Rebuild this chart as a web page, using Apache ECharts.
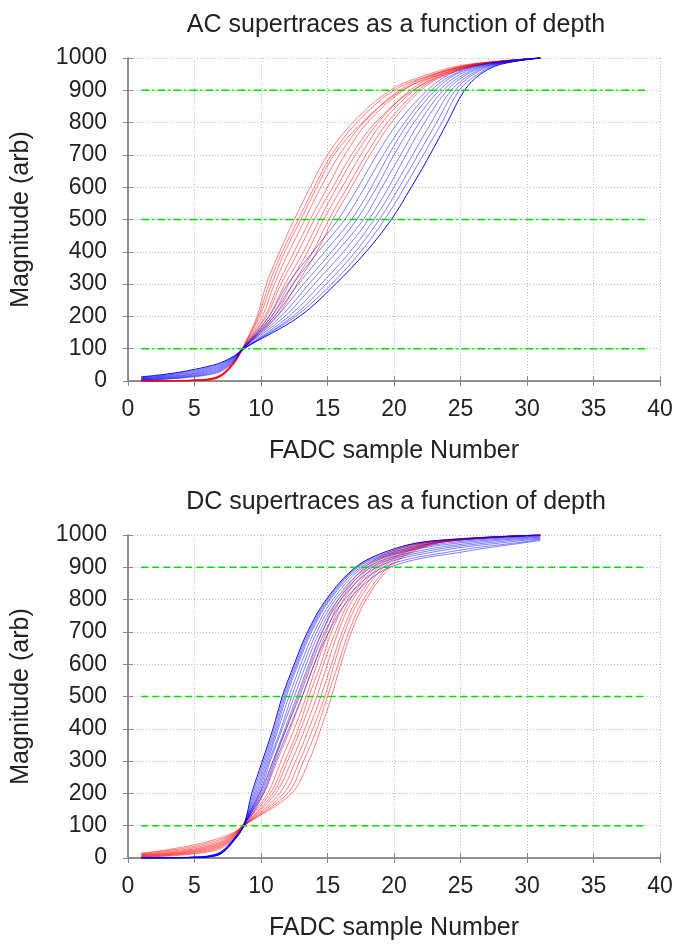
<!DOCTYPE html>
<html>
<head>
<meta charset="utf-8">
<script src="https://cdn.jsdelivr.net/npm/echarts@6/dist/echarts.min.js"></script>
<style>
html,body{margin:0;padding:0;background:#fff;}
#chart{width:678px;height:945px;}
</style>
</head>
<body>
<div id="chart"></div>
<script>
// ---------- DATA ----------
const TITLES = ['AC supertraces as a function of depth', 'DC supertraces as a function of depth'];
const X_NAME = 'FADC sample Number';
const Y_NAME = 'Magnitude (arb)';
const X_TICKS = [0, 5, 10, 15, 20, 25, 30, 35, 40];
const Y_TICKS = [0, 100, 200, 300, 400, 500, 600, 700, 800, 900, 1000];

// Early samples (x = 1..8): magnitudes
const LOW_X = [1, 2, 3, 4, 5, 6, 7, 8];
// Later part of each trace: sample position where it reaches each level
const LEVELS = [100, 200, 300, 400, 500, 600, 700, 800, 900, 950, 980];
const END_X = 31;

// Reference (threshold) lines
const REF_LEVELS = [100, 500, 900];
const REF_X = [1, 39];

// ---- AC chart ----
const AC_RED_LOW = [
  [0,0,0,0,1,3,14,55],[0,0,0,0,1,3,15,56],[0,0,0,1,1,4,15,57],[0,0,0,1,2,4,16,57],[0,0,0,1,2,4,17,58],
  [0,0,1,1,2,5,17,59],[0,0,1,1,2,5,18,60],[0,0,1,1,3,5,19,60],[0,0,1,1,3,6,19,61],[0,0,1,2,3,6,20,62]
];
const AC_RED_X = [
  [8.6, 9.7, 10.4, 11.4, 12.5, 13.7, 15.0, 16.9, 19.7, 22.6, 25.5],
  [8.6, 9.8, 10.6, 11.6, 12.8, 14.0, 15.3, 17.2, 20.0, 23.0, 26.0],
  [8.6, 9.9, 10.8, 11.8, 13.0, 14.2, 15.5, 17.6, 20.6, 23.6, 26.5],
  [8.6, 10.1, 11.0, 12.1, 13.3, 14.5, 15.9, 17.7, 20.4, 23.0, 25.8],
  [8.6, 10.3, 11.3, 12.5, 13.7, 15.0, 16.3, 18.0, 20.7, 23.2, 26.0],
  [8.6, 10.4, 11.5, 12.8, 14.0, 15.4, 16.8, 18.6, 21.4, 24.0, 26.6],
  [8.7, 10.6, 11.8, 13.2, 14.4, 15.7, 17.1, 18.8, 21.2, 23.4, 26.0],
  [8.7, 10.8, 12.1, 13.5, 14.7, 16.1, 17.5, 19.1, 21.5, 23.6, 26.2],
  [8.7, 11.0, 12.4, 13.9, 15.1, 16.5, 17.9, 19.5, 21.8, 23.8, 26.3],
  [8.7, 11.2, 12.7, 14.2, 15.4, 16.8, 18.2, 19.8, 22.0, 24.0, 26.5]
];
const AC_RED_END = [1000,1000,1000,1000,1000,1000,1000,1000,1000,1000];
const AC_BLUE_LOW = [
  [3,4,6,9,13,19,30,62],[4,5,7,10,15,21,33,64],[5,6,9,12,17,24,36,66],[6,7,10,14,19,27,39,68],[7,9,12,16,22,30,42,70],
  [8,10,14,18,24,33,45,72],[9,12,16,21,27,36,48,73],[10,13,18,23,30,39,51,75],[12,15,20,26,33,42,54,76],[13,17,22,28,36,45,57,78]
];
const AC_BLUE_X = [
  [8.6, 10.6, 12.0, 13.9, 15.8, 17.3, 18.7, 20.3, 22.5, 24.2, 26.5],
  [8.6, 10.8, 12.4, 14.3, 16.3, 17.8, 19.2, 20.8, 22.8, 24.5, 26.7],
  [8.6, 11.0, 12.8, 14.8, 16.8, 18.3, 19.6, 21.1, 23.1, 24.7, 26.9],
  [8.6, 11.2, 13.2, 15.3, 17.2, 18.7, 20.0, 21.5, 23.4, 25.0, 27.0],
  [8.6, 11.5, 13.6, 15.7, 17.7, 19.1, 20.5, 21.9, 23.7, 25.3, 27.2],
  [8.6, 11.8, 14.0, 16.2, 18.1, 19.6, 20.9, 22.3, 24.0, 25.5, 27.4],
  [8.7, 12.1, 14.5, 16.7, 18.5, 20.0, 21.4, 22.8, 24.3, 25.8, 27.5],
  [8.7, 12.4, 14.9, 17.1, 18.9, 20.4, 21.8, 23.2, 24.6, 26.0, 27.7],
  [8.7, 12.6, 15.3, 17.5, 19.3, 20.8, 22.2, 23.6, 24.9, 26.3, 27.8],
  [8.7, 12.9, 15.6, 17.9, 19.8, 21.3, 22.7, 24.0, 25.3, 26.5, 28.0]
];
const AC_BLUE_END = [1000,1000,1000,1000,1000,1000,1000,1000,1000,1000];

// ---- DC chart ----
const DC_BLUE_LOW = [
  [0,0,0,0,1,3,13,55],[0,0,0,0,1,3,14,56],[0,0,0,1,1,4,15,57],[0,0,0,1,2,4,16,57],[0,0,0,1,2,4,16,58],
  [0,0,1,1,2,5,17,59],[0,0,1,1,2,5,18,60],[0,0,1,1,3,5,18,60],[0,0,1,1,3,6,19,61],[0,0,1,2,3,6,20,62]
];
const DC_BLUE_X = [
  [8.7, 9.3, 10.1, 10.9, 11.6, 12.5, 13.5, 14.9, 17.1, 19.5, 22.5],
  [8.7, 9.4, 10.2, 11.0, 11.7, 12.6, 13.6, 15.0, 17.2, 19.8, 23.0],
  [8.7, 9.5, 10.3, 11.1, 11.8, 12.7, 13.7, 15.1, 17.3, 20.2, 24.0],
  [8.7, 9.6, 10.4, 11.2, 11.9, 12.8, 13.8, 15.2, 17.5, 20.6, 25.0],
  [8.7, 9.7, 10.5, 11.3, 12.1, 13.0, 14.0, 15.4, 17.7, 21.0, 26.0],
  [8.7, 9.8, 10.6, 11.5, 12.3, 13.2, 14.2, 15.6, 18.0, 21.8, 27.0],
  [8.7, 9.9, 10.7, 11.6, 12.5, 13.4, 14.4, 15.8, 18.3, 22.5, 28.0],
  [8.7, 10.0, 10.9, 11.8, 12.7, 13.6, 14.6, 16.0, 18.7, 23.3, 29.0],
  [8.7, 10.1, 11.0, 11.9, 12.9, 13.8, 14.8, 16.3, 19.2, 24.5, 30.0],
  [8.8, 10.2, 11.1, 12.1, 13.1, 14.0, 15.1, 16.6, 19.7, 25.5, 30.5]
];
const DC_BLUE_END = [1000,1000,998,997,995,993,990,988,986,983];
const DC_RED_LOW = [
  [3,4,6,9,13,19,30,62],[4,5,8,11,15,22,34,64],[5,7,10,13,18,25,37,66],[6,8,11,15,20,28,40,68],[8,10,13,17,23,31,43,70],
  [9,11,15,19,25,34,46,72],[10,13,17,22,28,37,49,74],[12,15,20,25,32,41,53,76],[13,18,23,29,36,46,58,78],[15,20,26,33,41,51,63,80]
];
const DC_RED_X = [
  [8.6, 9.9, 10.9, 11.9, 12.8, 13.7, 14.6, 15.8, 17.8, 19.8, 22.5],
  [8.6, 10.2, 11.2, 12.2, 13.1, 14.0, 14.9, 16.0, 18.0, 20.0, 22.7],
  [8.6, 10.5, 11.5, 12.5, 13.4, 14.2, 15.1, 16.2, 18.2, 20.2, 23.0],
  [8.6, 10.7, 11.8, 12.8, 13.6, 14.5, 15.3, 16.5, 18.4, 20.4, 23.2],
  [8.7, 10.9, 12.0, 13.0, 13.9, 14.7, 15.6, 16.7, 18.6, 20.6, 23.4],
  [8.7, 11.1, 12.3, 13.3, 14.2, 15.0, 15.8, 16.9, 18.8, 20.8, 23.5],
  [8.7, 11.4, 12.6, 13.6, 14.5, 15.3, 16.1, 17.2, 19.0, 21.0, 23.6],
  [8.7, 11.7, 12.9, 13.9, 14.8, 15.5, 16.3, 17.4, 19.2, 21.1, 23.8],
  [8.7, 12.0, 13.2, 14.2, 15.0, 15.8, 16.6, 17.7, 19.5, 21.3, 23.9],
  [8.7, 12.3, 13.6, 14.5, 15.3, 16.0, 16.8, 17.9, 19.7, 21.5, 24.0]
];
const DC_RED_END = [1000,1000,1000,1000,1000,1000,1000,1000,1000,1000];

// ---------- BUILD ----------
function trace(low, xs, end) {
  const pts = low.map((y, i) => [LOW_X[i], y]);
  xs.forEach((x, i) => pts.push([x, LEVELS[i]]));
  pts.push([END_X, end]);
  return pts;
}

const RED = 'rgba(255,0,0,0.5)';
const BLUE = 'rgba(0,0,255,0.5)';
const GREEN = '#00e000';
const FONT = 'Liberation Sans, Arial, sans-serif';

function lineSeries(idx, data, color, width) {
  return {
    type: 'line', xAxisIndex: idx * 2, yAxisIndex: idx * 2, data: data,
    symbol: 'none', smooth: 0.35, silent: true,
    lineStyle: { color: color, width: width || 1 }, z: 2
  };
}

const series = [];
// AC
AC_RED_LOW.forEach((low, i) => series.push(lineSeries(0, trace(low, AC_RED_X[i], AC_RED_END[i]), RED)));
AC_BLUE_LOW.forEach((low, i) => series.push(lineSeries(0, trace(low, AC_BLUE_X[i], AC_BLUE_END[i]),
  i === AC_BLUE_LOW.length - 1 ? 'rgba(0,0,230,0.95)' : BLUE)));
// DC
DC_RED_LOW.forEach((low, i) => series.push(lineSeries(1, trace(low, DC_RED_X[i], DC_RED_END[i]), RED)));
DC_BLUE_LOW.forEach((low, i) => series.push(lineSeries(1, trace(low, DC_BLUE_X[i], DC_BLUE_END[i]),
  i === 0 ? 'rgba(0,0,230,0.95)' : BLUE)));
// reference lines
[0, 1].forEach(idx => {
  REF_LEVELS.forEach(lv => {
    series.push({
      type: 'line', xAxisIndex: idx * 2, yAxisIndex: idx * 2,
      data: REF_X.map(x => [x, lv]), symbol: 'none', silent: true, z: 5,
      lineStyle: { color: GREEN, width: 1.6, type: idx === 0 ? [8, 3, 2, 3] : [7, 4] }
    });
  });
});

const GRID_TOPS = [58, 535];
const grids = GRID_TOPS.map(t => ({ left: 128, top: t, width: 532, height: 323 }));

const xAxes = [], yAxes = [];
GRID_TOPS.forEach((t, g) => {
  xAxes.push({
    gridIndex: g, type: 'value', min: X_TICKS[0], max: X_TICKS[X_TICKS.length - 1], interval: 5,
    name: X_NAME, nameLocation: 'middle', nameGap: 58,
    nameTextStyle: { fontSize: 25, color: '#222', fontFamily: FONT },
    axisLine: { lineStyle: { color: '#888', width: 1.5 } },
    axisTick: { inside: true, length: 5, lineStyle: { color: '#888' } },
    axisLabel: { fontSize: 23, color: '#222', margin: 17, fontFamily: FONT },
    splitLine: { show: true, lineStyle: { color: '#bbb', type: [1, 2], width: 1 } }
  });
  xAxes.push({
    gridIndex: g, type: 'value', position: 'top', min: X_TICKS[0], max: X_TICKS[X_TICKS.length - 1], interval: 5,
    axisLine: { lineStyle: { color: '#888', width: 1.5 } },
    axisTick: { inside: true, length: 5, lineStyle: { color: '#888' } },
    axisLabel: { show: false }, splitLine: { show: false }
  });
  yAxes.push({
    gridIndex: g, type: 'value', min: Y_TICKS[0], max: Y_TICKS[Y_TICKS.length - 1], interval: 100,
    name: Y_NAME, nameLocation: 'middle', nameGap: 94,
    nameTextStyle: { fontSize: 25, color: '#222', fontFamily: FONT },
    axisLine: { show: true, lineStyle: { color: '#888', width: 1.5 } },
    axisTick: { show: true, inside: true, length: 5, lineStyle: { color: '#888' } },
    axisLabel: { fontSize: 23, color: '#222', margin: 21, fontFamily: FONT, formatter: v => String(v) },
    splitLine: { show: true, lineStyle: { color: '#bbb', type: [1, 2], width: 1 } }
  });
  yAxes.push({
    gridIndex: g, type: 'value', position: 'right', min: Y_TICKS[0], max: Y_TICKS[Y_TICKS.length - 1], interval: 100,
    axisLine: { show: true, lineStyle: { color: '#888', width: 1.5 } },
    axisTick: { show: true, inside: true, length: 5, lineStyle: { color: '#888' } },
    axisLabel: { show: false }, splitLine: { show: false }
  });
});

const chart = echarts.init(document.getElementById('chart'), null, { renderer: 'canvas' });
chart.setOption({
  animation: false,
  backgroundColor: '#fff',
  title: TITLES.map((t, i) => ({
    text: t, left: 391, top: [8, 485][i], textAlign: 'center',
    textStyle: { fontSize: 25, fontWeight: 'normal', color: '#222', fontFamily: FONT }
  })),
  grid: grids,
  xAxis: xAxes,
  yAxis: yAxes,
  series: series
});
</script>
</body>
</html>
